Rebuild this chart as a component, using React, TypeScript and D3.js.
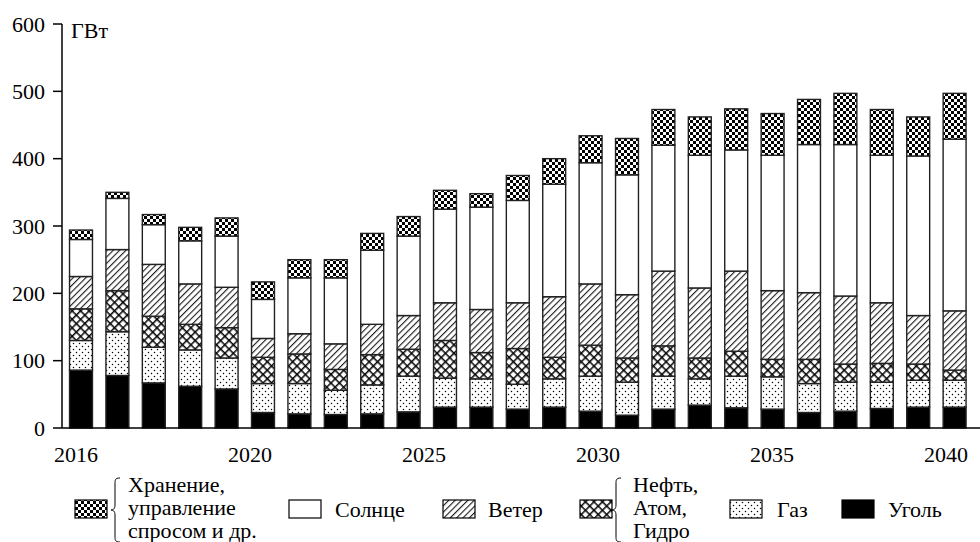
import React from "react";
import * as d3 from "d3";

const years = [2016, 2017, 2018, 2019, 2020, 2021, 2022, 2023, 2024, 2025, 2026, 2027, 2028, 2029, 2030, 2031, 2032, 2033, 2034, 2035, 2036, 2037, 2038, 2039, 2040];
const coal = [86, 78, 67, 62, 58, 23, 21, 20, 21, 24, 31, 31, 28, 31, 25, 19, 28, 34, 30, 28, 23, 25, 29, 31, 31];
const gas = [44, 65, 53, 54, 46, 43, 45, 36, 43, 53, 43, 42, 37, 42, 52, 49, 49, 39, 47, 48, 43, 43, 39, 40, 40];
const nuclear = [47, 61, 46, 38, 45, 39, 44, 31, 45, 40, 56, 39, 53, 32, 46, 36, 45, 31, 37, 26, 36, 27, 28, 24, 15];
const wind = [48, 61, 77, 60, 60, 28, 30, 38, 45, 50, 56, 64, 68, 90, 91, 94, 111, 104, 119, 102, 99, 101, 90, 72, 88];
const solar = [55, 76, 59, 64, 76, 58, 83, 98, 110, 118, 139, 152, 152, 167, 180, 178, 187, 197, 180, 201, 220, 225, 219, 237, 255];
const storage = [14, 9, 15, 20, 27, 26, 27, 27, 25, 29, 28, 20, 37, 38, 40, 54, 53, 57, 61, 62, 67, 76, 68, 58, 68];

const seriesKeys = ["coal", "gas", "nuclear", "wind", "solar", "storage"];
const yTicks = [0, 100, 200, 300, 400, 500, 600];
const xTickLabels = [2016, 2020, 2025, 2030, 2035, 2040];
const yUnit = "ГВт";

const legendKeys = ["storage", "solar", "wind", "nuclear", "gas", "coal"];
const legendLabels = [
  ["Хранение,", "управление", "спросом и др."],
  ["Солнце"],
  ["Ветер"],
  ["Нефть,", "Атом,", "Гидро"],
  ["Газ"],
  ["Уголь"],
];
// layout (pixel positions of legend items)
const legendSwatchX = [75, 289, 443, 580, 730, 842];
const legendTextX = [128, 335, 488, 633, 777, 888];

const FONT = "'Times New Roman', Times, Tinos, 'Noto Serif', FreeSerif, 'Nimbus Roman', 'Liberation Serif', 'DejaVu Serif', serif";

const fills: Record<string, string> = {
  coal: "#000",
  gas: "url(#pGas)",
  nuclear: "url(#pNuc)",
  wind: "url(#pWind)",
  solar: "#fff",
  storage: "url(#pStor)",
};

function brace(x: number, top: number, bottom: number) {
  const mid = (top + bottom) / 2;
  return `M ${x + 9} ${top} C ${x + 4} ${top} ${x + 4} ${top + 2} ${x + 4} ${top + 6} L ${x + 4} ${mid - 5} C ${x + 4} ${mid - 1} ${x + 2} ${mid} ${x} ${mid} C ${x + 2} ${mid} ${x + 4} ${mid + 1} ${x + 4} ${mid + 5} L ${x + 4} ${bottom - 6} C ${x + 4} ${bottom - 2} ${x + 4} ${bottom} ${x + 9} ${bottom}`;
}

export default function App() {
  const W = 980;
  const H = 542;
  const axisX = 62;
  const y = d3.scaleLinear().domain([0, 600]).range([428, 24]);
  const x = d3
    .scaleBand<number>()
    .domain(years)
    .range([62.8, 972.8])
    .paddingInner(0.37)
    .paddingOuter(0.185);
  const xLab = d3.scalePoint<number>().domain(xTickLabels).range([76, 946]);

  const table = years.map((yr, i) => ({
    year: yr,
    coal: coal[i],
    gas: gas[i],
    nuclear: nuclear[i],
    wind: wind[i],
    solar: solar[i],
    storage: storage[i],
  }));
  const stacked = d3.stack<any>().keys(seriesKeys)(table);
  const ts = { fontFamily: FONT, fontSize: 22 } as React.CSSProperties;

  return (
    <svg
      width={W}
      height={H}
      style={{ position: "absolute", left: 0, top: 0, background: "#fff", fontFamily: FONT }}
    >
      <defs>
        <pattern id="pStor" width={6} height={6} patternUnits="userSpaceOnUse">
          <rect width={6} height={6} fill="#fff" />
          <rect x={0} y={0} width={3} height={3} fill="#000" />
          <rect x={3} y={3} width={3} height={3} fill="#000" />
        </pattern>
        <pattern id="pWind" width={4.5} height={4.5} patternUnits="userSpaceOnUse" patternTransform="rotate(45)">
          <rect width={4.5} height={4.5} fill="#fff" />
          <line x1={0.6} y1={0} x2={0.6} y2={4.5} stroke="#000" strokeWidth={1} />
        </pattern>
        <pattern id="pNuc" width={6} height={6} patternUnits="userSpaceOnUse" patternTransform="rotate(45)">
          <rect width={6} height={6} fill="#fff" />
          <line x1={0.8} y1={0} x2={0.8} y2={6} stroke="#000" strokeWidth={1.5} />
          <line x1={0} y1={0.8} x2={6} y2={0.8} stroke="#000" strokeWidth={1.5} />
        </pattern>
        <pattern id="pGas" width={6} height={6} patternUnits="userSpaceOnUse">
          <rect width={6} height={6} fill="#fff" />
          <circle cx={1.5} cy={1.5} r={0.75} fill="#000" />
          <circle cx={4.5} cy={4.5} r={0.75} fill="#000" />
        </pattern>
      </defs>

      {/* bars */}
      {stacked.map((s) => (
        <g key={s.key}>
          {s.map((d: any) => (
            <rect
              key={d.data.year}
              x={x(d.data.year)}
              y={y(d[1])}
              width={x.bandwidth()}
              height={y(d[0]) - y(d[1])}
              fill={fills[s.key]}
              stroke="#222"
              strokeWidth={1.4}
            />
          ))}
        </g>
      ))}

      {/* axes */}
      <line x1={axisX} x2={axisX} y1={y(600)} y2={y(0)} stroke="#000" strokeWidth={1.5} />
      <line x1={axisX} x2={W} y1={y(0)} y2={y(0)} stroke="#000" strokeWidth={1.5} />
      {yTicks.map((t) => (
        <g key={t}>
          <line x1={axisX - 9} x2={axisX} y1={y(t)} y2={y(t)} stroke="#000" strokeWidth={1.5} />
          <text x={45} y={y(t) + 7.5} textAnchor="end" style={ts} fill="#000">
            {t}
          </text>
        </g>
      ))}
      <text x={71} y={38} style={ts} fill="#000">
        {yUnit}
      </text>
      {xTickLabels.map((t) => (
        <text key={t} x={xLab(t)} y={462} textAnchor="middle" style={ts} fill="#000">
          {t}
        </text>
      ))}

      {/* legend */}
      {legendKeys.map((k, i) => {
        const lines = legendLabels[i];
        const multi = lines.length > 1;
        return (
          <g key={k}>
            <rect
              x={legendSwatchX[i]}
              y={500}
              width={32}
              height={18}
              fill={fills[k]}
              stroke="#000"
              strokeWidth={1.2}
            />
            {multi && (
              <path
                d={brace(legendSwatchX[i] + (k === "storage" ? 36 : 32), 478, 542)}
                fill="none"
                stroke="#000"
                strokeWidth={1}
              />
            )}
            {lines.map((ln, j) => (
              <text
                key={j}
                x={legendTextX[i]}
                y={multi ? 492 + j * 23 : 517}
                style={ts}
                fill="#000"
              >
                {ln}
              </text>
            ))}
          </g>
        );
      })}
    </svg>
  );
}
